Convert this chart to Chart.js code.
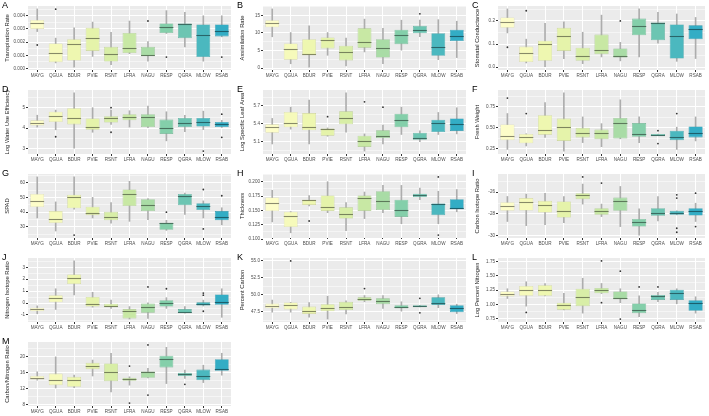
<!DOCTYPE html>
<html>
<head>
<meta charset="utf-8">
<script src="https://cdn.jsdelivr.net/npm/chart.js@4.4.1/dist/chart.umd.min.js"></script>
<style>
  body { margin: 0; background: #fff; width: 709px; height: 416px; overflow: hidden; position: relative;
         font-family: 'Liberation Sans', Arial, sans-serif; }
  .panel { position: absolute; }
  .tag { position: absolute; font-size: 9px; color: #000; line-height: 9px; }
</style>
</head>
<body>
<script>
const sites = ['MAYG', 'QGUA', 'BDUR', 'PVIE', 'RSNT', 'LFRA', 'NAGU', 'RESP', 'QGRA', 'MLOW', 'RSAB'];
const siteColors = ['#fdfdc9', '#f6fabb', '#eef7b0', '#e5f3aa', '#d8eea7', '#c8e8a4', '#a9dca6',
                    '#84cfaa', '#6cc5b2', '#4bb8bf', '#33adc5'];

// each row: [lower whisker, Q1, median, Q3, upper whisker]; outliers: [site index, value]
const transpiration = [
  [0.0028, 0.0030, 0.00347, 0.00368, 0.00452], [0.00042, 0.00047, 0.00117, 0.0019, 0.0023],
  [0.0001, 0.0006, 0.00183, 0.00222, 0.00308], [0.00091, 0.00133, 0.0023, 0.00308, 0.00352],
  [0.00029, 0.00052, 0.00107, 0.00164, 0.00274], [0.00112, 0.00117, 0.00157, 0.00269, 0.0036],
  [0.00055, 0.00097, 0.00104, 0.00164, 0.00204], [0.00265, 0.00269, 0.00316, 0.00342, 0.00439],
  [0.00164, 0.0023, 0.00334, 0.00342, 0.00426], [0.00055, 0.00086, 0.00256, 0.00334, 0.004],
  [0.0024, 0.00243, 0.00282, 0.00334, 0.004]];
const transpirationOut = [[0, 0.00178], [1, 0.0045], [6, 0.0036], [7, 0.00086], [10, 0.00086]];
const transpirationTicks = [0, 0.001, 0.002, 0.003, 0.004];

const assimilation = [
  [8.9, 11.6, 12.8, 13.6, 16.8], [1.25, 2.4, 5.3, 7.0, 10.1], [0.3, 3.65, 4.1, 8.2, 12.0],
  [3.65, 5.6, 8.0, 8.7, 10.1], [0.6, 2.2, 4.6, 6.35, 8.5], [4.6, 5.8, 7.5, 11.3, 13.9],
  [1.25, 3.0, 5.6, 8.2, 11.3], [5.1, 6.8, 9.4, 10.9, 13.6], [8.9, 9.9, 10.9, 12.0, 13.6],
  [2.4, 3.5, 5.9, 9.9, 13.75], [3.0, 7.7, 9.1, 10.9, 13.3]];
const assimilationOut = [[8, 15.4]];
const assimilationTicks = [0, 5, 10, 15];

const conductance = [
  [0.148, 0.17, 0.195, 0.215, 0.252], [0.018, 0.022, 0.059, 0.089, 0.121], [0.0, 0.027, 0.099, 0.114, 0.19],
  [0.037, 0.07, 0.133, 0.17, 0.196], [0.015, 0.027, 0.049, 0.084, 0.151], [0.044, 0.056, 0.074, 0.141, 0.225],
  [0.027, 0.041, 0.047, 0.081, 0.107], [0.044, 0.138, 0.18, 0.21, 0.252], [0.104, 0.116, 0.19, 0.193, 0.237],
  [0.025, 0.037, 0.133, 0.185, 0.23], [0.037, 0.121, 0.163, 0.181, 0.215]];
const conductanceOut = [[0, 0.086], [1, 0.244], [6, 0.2]];
const conductanceTicks = [0, 0.1, 0.2];

const waterUse = [
  [4.05, 4.13, 4.27, 4.38, 4.63], [3.92, 4.3, 4.58, 4.8, 4.88], [3.02, 4.18, 4.48, 4.97, 5.72],
  [3.8, 3.92, 4.08, 4.47, 5.0], [4.18, 4.27, 4.5, 4.58, 4.88], [4.05, 4.38, 4.55, 4.68, 4.85],
  [4.02, 4.05, 4.55, 4.68, 5.08], [3.38, 3.72, 4.02, 4.42, 4.8], [3.83, 4.05, 4.25, 4.5, 4.63],
  [3.93, 4.08, 4.3, 4.5, 4.83], [4.03, 4.05, 4.18, 4.3, 4.38]];
const waterUseOut = [[1, 3.58], [4, 5.0], [4, 3.8], [9, 2.88], [10, 4.68], [10, 3.55]];
const waterUseTicks = [3, 4, 5];

const leafArea = [
  [5.06, 5.25, 5.34, 5.39, 5.49], [5.31, 5.34, 5.41, 5.6, 5.68], [5.06, 5.29, 5.35, 5.58, 5.8],
  [5.19, 5.2, 5.31, 5.32, 5.33], [5.26, 5.39, 5.5, 5.61, 5.92], [4.94, 5.01, 5.11, 5.2, 5.23],
  [5.06, 5.16, 5.19, 5.29, 5.38], [5.22, 5.34, 5.47, 5.57, 5.68], [5.1, 5.13, 5.16, 5.25, 5.28],
  [5.22, 5.26, 5.42, 5.47, 5.59], [5.23, 5.28, 5.4, 5.49, 5.67]];
const leafAreaOut = [[3, 5.52], [5, 5.77], [6, 5.68]];
const leafAreaTicks = [5.1, 5.4, 5.7];

const freshWeight = [
  [0.244, 0.354, 0.406, 0.54, 0.67], [0.285, 0.317, 0.394, 0.427, 0.43], [0.386, 0.419, 0.48, 0.65, 0.8],
  [0.224, 0.345, 0.516, 0.61, 0.915], [0.325, 0.386, 0.435, 0.5, 0.63], [0.276, 0.366, 0.435, 0.48, 0.55],
  [0.37, 0.374, 0.557, 0.618, 0.833], [0.325, 0.394, 0.427, 0.557, 0.63], [0.406, 0.406, 0.419, 0.427, 0.427],
  [0.244, 0.354, 0.394, 0.467, 0.508], [0.345, 0.386, 0.439, 0.516, 0.63]];
const freshWeightOut = [[0, 0.854], [1, 0.67], [8, 0.467], [8, 0.313], [9, 0.67]];
const freshWeightTicks = [0.25, 0.5, 0.75];

const spad = [
  [36.0, 43.5, 47.7, 52.4, 64.1], [27.1, 32.5, 35.3, 40.7, 47.0], [42.0, 42.6, 50.5, 51.9, 64.1],
  [36.0, 37.9, 39.5, 43.7, 50.1], [32.5, 34.4, 36.5, 40.2, 46.6], [33.7, 44.2, 52.4, 55.5, 61.1],
  [34.8, 40.7, 44.7, 48.9, 49.2], [27.5, 27.9, 32.3, 32.8, 34.4], [38.4, 44.7, 50.8, 52.4, 53.1],
  [36.0, 41.4, 44.2, 46.1, 47.7], [31.3, 34.4, 36.5, 40.7, 43.0]];
const spadOut = [[2, 24.3], [7, 40.0], [9, 55.5], [9, 28.5], [10, 51.2]];
const spadTicks = [30, 40, 50, 60];

const thickness = [
  [0.13, 0.1488, 0.1637, 0.1726, 0.185], [0.111, 0.121, 0.1405, 0.1476, 0.148], [0.158, 0.1595, 0.1673, 0.1685, 0.176],
  [0.146, 0.149, 0.1565, 0.176, 0.2], [0.1149, 0.1357, 0.1435, 0.1554, 0.1637], [0.1357, 0.149, 0.1714, 0.176, 0.182],
  [0.146, 0.1506, 0.1655, 0.1833, 0.1935], [0.1268, 0.1387, 0.1506, 0.1685, 0.1935], [0.1685, 0.1732, 0.1774, 0.179, 0.189],
  [0.1268, 0.1417, 0.1613, 0.1618, 0.1833], [0.1476, 0.1518, 0.1536, 0.1696, 0.1863]];
const thicknessOut = [[2, 0.1315], [9, 0.2083], [9, 0.107]];
const thicknessTicks = [0.1, 0.125, 0.15, 0.175, 0.2];

const carbonIsotope = [
  [-28.7, -27.72, -27.32, -26.92, -26.4], [-29.08, -27.69, -26.95, -26.55, -26.18], [-29.0, -27.88, -27.17, -26.8, -26.1],
  [-28.8, -28.34, -27.72, -26.86, -26.4], [-27.1, -26.65, -26.25, -26.1, -25.26], [-28.25, -28.09, -27.78, -27.48, -27.1],
  [-29.17, -27.72, -26.77, -26.5, -25.48], [-29.95, -29.17, -28.77, -28.46, -27.54], [-28.65, -28.18, -27.94, -27.48, -26.4],
  [-28.09, -28.09, -27.94, -27.72, -27.72], [-28.7, -28.15, -27.78, -27.48, -27.02]];
const carbonIsotopeOut = [[4, -24.6], [5, -25.17], [9, -26.25], [9, -26.55], [9, -29.32], [9, -29.69], [10, -26.1], [10, -29.17]];
const carbonIsotopeTicks = [-30, -28, -26];

const nitrogenIsotope = [
  [-0.9, -0.69, -0.54, -0.39, -0.24], [-0.54, 0.06, 0.39, 0.66, 1.2], [0.69, 1.59, 2.1, 2.4, 3.54],
  [-0.35, -0.3, -0.06, 0.51, 0.9], [-0.45, -0.3, -0.21, -0.06, 0.24], [-1.35, -1.29, -0.66, -0.51, -0.3],
  [-1.29, -0.81, -0.3, 0.0, 0.02], [-0.45, -0.3, 0.0, 0.24, 0.45], [-0.86, -0.84, -0.75, -0.51, -0.3],
  [-0.25, -0.21, -0.06, 0.06, 0.24], [-1.2, -0.15, 0.09, 0.72, 1.2]];
const nitrogenIsotopeOut = [[6, 1.35], [7, 1.2], [9, 0.84], [9, 0.66], [9, -0.69]];
const nitrogenIsotopeTicks = [-1, 0, 1, 2, 3];

const percentCarbon = [
  [47.45, 48.01, 48.37, 48.72, 49.23], [47.45, 47.86, 48.47, 48.88, 48.9], [46.73, 47.19, 47.6, 48.27, 48.88],
  [46.43, 47.6, 48.11, 48.62, 49.8], [47.19, 47.76, 48.27, 48.98, 49.13], [48.98, 49.13, 49.39, 49.64, 49.9],
  [48.01, 48.62, 49.13, 49.49, 49.9], [47.6, 48.01, 48.21, 48.47, 48.98], [48.21, 48.21, 48.37, 48.47, 48.47],
  [48.11, 48.52, 48.78, 49.64, 50.0], [47.24, 47.45, 48.11, 48.47, 48.62]];
const percentCarbonOut = [[1, 55.0], [5, 50.92], [8, 49.49], [8, 47.35]];
const percentCarbonTicks = [47.5, 50, 52.5, 55];

const logNitrogen = [
  [1.104, 1.14, 1.183, 1.226, 1.274], [0.97, 1.152, 1.256, 1.323, 1.396], [1.15, 1.152, 1.244, 1.335, 1.366],
  [0.905, 0.909, 0.982, 1.03, 1.195], [0.848, 0.97, 1.122, 1.274, 1.457], [1.19, 1.195, 1.244, 1.287, 1.366],
  [1.03, 1.091, 1.11, 1.226, 1.274], [0.787, 0.848, 0.909, 1.018, 1.152], [1.049, 1.079, 1.14, 1.165, 1.213],
  [1.012, 1.079, 1.195, 1.256, 1.274], [0.848, 0.89, 1.03, 1.073, 1.134]];
const logNitrogenOut = [[1, 0.86], [5, 1.76], [5, 1.03], [6, 1.58], [6, 0.744], [7, 1.305], [8, 1.305]];
const logNitrogenTicks = [0.75, 1, 1.25, 1.5, 1.75];

const cnRatio = [
  [14.15, 14.3, 14.8, 15.2, 16.25], [12.2, 12.9, 14.3, 15.8, 20.0], [12.3, 12.5, 14.15, 15.0, 15.4],
  [15.2, 16.9, 17.8, 18.5, 19.2], [11.2, 13.9, 16.25, 18.35, 20.9], [12.9, 14.0, 14.4, 14.75, 15.0],
  [14.7, 14.75, 16.2, 16.3, 17.1], [13.3, 17.35, 19.4, 20.3, 22.4], [14.6, 15.2, 15.7, 16.0, 16.7],
  [13.55, 14.15, 15.2, 16.8, 17.9], [15.4, 16.5, 16.9, 19.4, 20.9]];
const cnRatioOut = [[5, 17.7], [5, 8.4], [6, 23.0], [6, 10.4], [8, 13.1]];
const cnRatioTicks = [8, 12, 16, 20];

const panels = [
  { tag: 'A', title: 'Transpiration Rate', stats: transpiration, out: transpirationOut, ticks: transpirationTicks, digits: 3 },
  { tag: 'B', title: 'Assimilation Rate', stats: assimilation, out: assimilationOut, ticks: assimilationTicks, digits: 0 },
  { tag: 'C', title: 'Stomatal Conductance', stats: conductance, out: conductanceOut, ticks: conductanceTicks, digits: 1 },
  { tag: 'D', title: 'Log Water Use Efficiency', stats: waterUse, out: waterUseOut, ticks: waterUseTicks, digits: 0 },
  { tag: 'E', title: 'Log Specific Leaf Area', stats: leafArea, out: leafAreaOut, ticks: leafAreaTicks, digits: 1 },
  { tag: 'F', title: 'Fresh Weight', stats: freshWeight, out: freshWeightOut, ticks: freshWeightTicks, digits: 2 },
  { tag: 'G', title: 'SPAD', stats: spad, out: spadOut, ticks: spadTicks, digits: 0 },
  { tag: 'H', title: 'Thickness', stats: thickness, out: thicknessOut, ticks: thicknessTicks, digits: 3 },
  { tag: 'I', title: 'Carbon Isotope Ratio', stats: carbonIsotope, out: carbonIsotopeOut, ticks: carbonIsotopeTicks, digits: 0 },
  { tag: 'J', title: 'Nitrogen Isotope Ratio', stats: nitrogenIsotope, out: nitrogenIsotopeOut, ticks: nitrogenIsotopeTicks, digits: 0 },
  { tag: 'K', title: 'Percent Carbon', stats: percentCarbon, out: percentCarbonOut, ticks: percentCarbonTicks, digits: 1 },
  { tag: 'L', title: 'Log Percent Nitrogen', stats: logNitrogen, out: logNitrogenOut, ticks: logNitrogenTicks, digits: 2 },
  { tag: 'M', title: 'Carbon/Nitrogen Ratio', stats: cnRatio, out: cnRatioOut, ticks: cnRatioTicks, digits: 0 },
];

Chart.defaults.font.family = "'Liberation Sans', Arial, sans-serif";
Chart.defaults.animation = false;

const COLS = [{ left: 0, width: 235, right: 2 }, { left: 235, width: 235, right: 0 }, { left: 470, width: 239, right: 4 }];
const ROW_TOPS = [0, 84, 168, 252, 336];
const PANEL_H = 82;

function shade(hex, f) {
  const n = parseInt(hex.slice(1), 16);
  const c = [n >> 16, (n >> 8) & 255, n & 255].map(v => Math.round(v * (1 - f)));
  return `rgb(${c[0]},${c[1]},${c[2]})`;
}

// grey ggplot panel background
const panelBg = {
  id: 'panelBg',
  beforeDraw(chart) {
    const { ctx, chartArea: a } = chart;
    ctx.save();
    ctx.fillStyle = '#ebebeb';
    ctx.fillRect(a.left, a.top, a.right - a.left, a.bottom - a.top);
    ctx.restore();
  },
};

// median line across each box
const medianLines = {
  id: 'medianLines',
  afterDatasetsDraw(chart, args, opts) {
    const { ctx } = chart;
    const meta = chart.getDatasetMeta(1);
    const y = chart.scales.y;
    ctx.save();
    ctx.lineWidth = 1.1;
    meta.data.forEach((bar, i) => {
      const { x, width } = bar.getProps(['x', 'width'], true);
      const py = Math.round(y.getPixelForValue(opts.medians[i])) + 0.5;
      ctx.strokeStyle = opts.colors[i];
      ctx.beginPath();
      ctx.moveTo(x - width / 2, py);
      ctx.lineTo(x + width / 2, py);
      ctx.stroke();
    });
    ctx.restore();
  },
};

panels.forEach((p, k) => {
  const col = COLS[k % 3];
  const top = ROW_TOPS[Math.floor(k / 3)];

  const div = document.createElement('div');
  div.className = 'panel';
  div.style.cssText = `left:${col.left}px;top:${top}px;width:${col.width}px;height:${PANEL_H}px`;
  const canvas = document.createElement('canvas');
  div.appendChild(canvas);
  document.body.appendChild(div);

  const tag = document.createElement('div');
  tag.className = 'tag';
  tag.textContent = p.tag;
  tag.style.left = (col.left + 2) + 'px';
  tag.style.top = (top + 1) + 'px';
  document.body.appendChild(tag);

  // ggplot-like limits: data range expanded by 5%
  const all = p.stats.flatMap(s => [s[0], s[4]]).concat(p.out.map(o => o[1]));
  const lo = Math.min(...all), hi = Math.max(...all);
  const pad = (hi - lo) * 0.05;
  const yMin = lo - pad, yMax = hi + pad;

  const step = p.ticks[1] - p.ticks[0];
  const minor = [p.ticks[0] - step / 2, ...p.ticks.map(t => t + step / 2)].filter(v => v > yMin && v < yMax);
  const tickObjs = p.ticks.map(v => ({ value: v, minor: false }))
    .concat(minor.map(v => ({ value: v, minor: true })))
    .sort((a, b) => a.value - b.value);

  new Chart(canvas, {
    type: 'bar',
    data: {
      labels: sites,
      datasets: [
        {
          type: 'bar',
          data: p.stats.map(s => [s[0], s[4]]),
          backgroundColor: '#adadad',
          barThickness: 1,
          grouped: false,
          order: 3,
        },
        {
          type: 'bar',
          data: p.stats.map(s => [s[1], s[3]]),
          backgroundColor: siteColors,
          borderColor: siteColors.map(c => shade(c, 0.14)),
          borderWidth: 0.6,
          borderSkipped: false,
          categoryPercentage: 1,
          barPercentage: 0.75,
          grouped: false,
          order: 2,
        },
        {
          type: 'scatter',
          data: p.out.map(o => ({ x: sites[o[0]], y: o[1] })),
          pointRadius: 0.9,
          pointBackgroundColor: '#333',
          pointBorderWidth: 0,
          order: 1,
        },
      ],
    },
    options: {
      responsive: true,
      maintainAspectRatio: false,
      events: [],
      layout: { padding: { top: 6, right: col.right, left: 0, bottom: 0 } },
      plugins: {
        legend: { display: false },
        tooltip: { enabled: false },
        medianLines: { medians: p.stats.map(s => s[2]), colors: siteColors.map(c => shade(c, 0.45)) },
      },
      scales: {
        x: {
          type: 'category',
          offset: true,
          afterFit: s => { s.height = PANEL_H - 6 - 64; },
          grid: { offset: false, color: '#fff', lineWidth: 1, tickLength: 2, tickColor: '#333' },
          border: { display: false },
          ticks: { font: { size: 4.6 }, color: '#4d4d4d', padding: 1, autoSkip: false, maxRotation: 0 },
        },
        y: {
          type: 'linear',
          min: yMin,
          max: yMax,
          afterFit: s => { s.width = 28; },
          afterBuildTicks: s => { s.ticks = tickObjs.map(t => ({ ...t })); },
          grid: {
            color: '#fff',
            lineWidth: c => (c.tick && c.tick.minor ? 0.5 : 1),
            tickLength: 2,
            tickColor: c => (c.tick && c.tick.minor ? 'rgba(0,0,0,0)' : '#333'),
          },
          border: { display: false },
          title: { display: true, text: p.title, font: { size: 5.8 }, color: '#1a1a1a', padding: { top: 4, bottom: 0 } },
          ticks: {
            font: { size: 4.6 },
            color: '#4d4d4d',
            padding: 1,
            autoSkip: false,
            callback: (v, i, ts) => (ts[i].minor ? '' : Number(v).toFixed(p.digits)),
          },
        },
      },
    },
    plugins: [panelBg, medianLines],
  });
});
</script>
</body>
</html>
